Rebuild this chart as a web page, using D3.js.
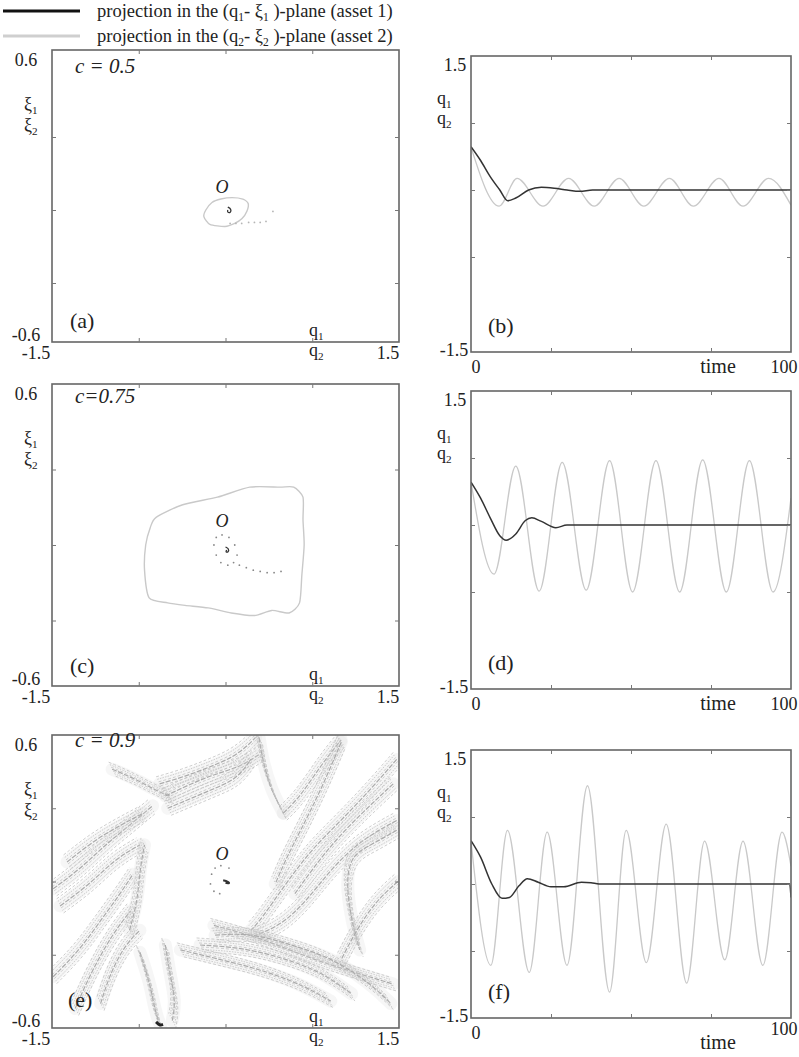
<!DOCTYPE html>
<html>
<head>
<meta charset="utf-8">
<script src="https://cdn.jsdelivr.net/npm/d3@7"></script>
<style>
  body { margin: 0; background: #fff; }
  svg text { font-family: "Liberation Serif", "Times New Roman", serif; fill: #222; }
</style>
</head>
<body>
<svg id="fig" width="799" height="1057"></svg>
<script>
// ---------- data ----------
const qRange = [-1.5, 1.5];
const xiRange = [-0.6, 0.6];
const timeRange = [0, 100];
const phaseTicksQ = [-0.75, 0, 0.75];
const phaseTicksXi = [-0.3, 0, 0.3];
const timeTicks = [25, 50, 75];
const seriesTicks = [-0.75, 0, 0.75];

const legendSubs = ["1", "2"];
const legendAssets = ["asset 1", "asset 2"];
const cLabels = ["c = 0.5", "c=0.75", "c = 0.9"];
const phaseLetters = ["(a)", "(c)", "(e)"];
const timeLetters = ["(b)", "(d)", "(f)"];

// time series [time, q]
const q1_b = [[0,0.485],[3,0.33],[6,0.15],[9,0.0],[11.5,-0.12],[14,-0.09],[18,0.0],[22,0.03],[26,0.02],[30,0.0],[34,-0.015],[38,0],[100,0]];
const q2_b = [[0,0.48],[8.8,-0.18],[14.4,0.13],[22.5,-0.18],[30.5,0.13],[38.5,-0.18],[46.3,0.13],[54,-0.18],[62,0.13],[69.5,-0.18],[77.5,0.13],[85,-0.18],[93,0.13],[100,-0.17]];
const q1_d = [[0,0.48],[3,0.3],[6,0.08],[9,-0.12],[11,-0.17],[14,-0.1],[17,0.05],[19,0.08],[22,0.04],[26.5,-0.03],[30,0],[100,0]];
const q2_d = [[0,0.48],[7.2,-0.55],[14,0.66],[21.3,-0.74],[28.5,0.7],[36,-0.73],[43.3,0.72],[50.5,-0.75],[57.8,0.72],[65.2,-0.75],[72.4,0.73],[79.8,-0.75],[87,0.72],[94.4,-0.75],[100,0.3]];
const q1_f = [[0,0.485],[3,0.3],[6.5,0.0],[9.7,-0.16],[12,-0.15],[15,-0.02],[17.6,0.06],[21,0.02],[25,-0.03],[29,-0.03],[34.5,0.02],[37.5,0.015],[40,0],[99.6,0],[100,-0.15]];
const q2_f = [[0,0.48],[6.2,-0.91],[11.4,0.6],[18.2,-0.99],[23.8,0.58],[30,-0.91],[36.4,1.1],[43.3,-1.21],[48.5,0.6],[54.8,-0.88],[61,0.67],[67.4,-1.11],[73,0.48],[79.3,-0.85],[85,0.48],[91.2,-0.91],[97.2,0.58],[100,0.2]];

// phase plane [q, xi]
const cycle_a = [[0.196,0.027],[0.15,0.045],[0.057,0.051],[-0.04,0.045],[-0.117,0.031],[-0.17,0.0],[-0.187,-0.027],[-0.135,-0.059],[-0.004,-0.068],[0.08,-0.055],[0.143,-0.035],[0.185,-0.005]];
const trail_a = [[0.04,-0.055],[0.09,-0.055],[0.14,-0.055],[0.2,-0.051],[0.25,-0.051],[0.3,-0.051],[0.35,-0.047],[0.41,-0.006]];
const spiral_a = [[0.02,0.012],[0.05,0.004],[0.045,-0.012],[0.015,-0.01],[0.02,0.0]];

const cycle_c = [[-0.6,0.11],[-0.37,0.16],[-0.07,0.19],[0.21,0.23],[0.47,0.23],[0.59,0.23],[0.67,0.19],[0.67,0.1],[0.68,0.0],[0.66,-0.12],[0.64,-0.23],[0.55,-0.27],[0.4,-0.26],[0.25,-0.28],[0.05,-0.27],[-0.15,-0.25],[-0.35,-0.24],[-0.5,-0.23],[-0.66,-0.21],[-0.7,-0.1],[-0.69,0.0],[-0.65,0.07]];
const dots_c = [[-0.1,0.0],[-0.08,0.03],[-0.03,0.04],[0.03,0.03],[0.08,0.0],[0.1,-0.04],[0.07,-0.07],[0.02,-0.08],[-0.04,-0.07],[-0.08,-0.04],[0.12,-0.08],[0.18,-0.09],[0.24,-0.1],[0.3,-0.105],[0.36,-0.11],[0.42,-0.11],[0.48,-0.105]];
const spiral_c = [[0.0,-0.008],[0.03,-0.014],[0.025,-0.03],[0.0,-0.028],[0.01,-0.02]];

const streaks_e = [
  [[-0.98,0.46],[-0.78,0.42],[-0.59,0.37],[-0.48,0.35]],
  [[-0.57,0.40],[-0.35,0.43],[-0.13,0.47],[0.07,0.51],[0.2,0.56],[0.26,0.59]],
  [[-0.52,0.35],[-0.30,0.40],[-0.09,0.44],[0.13,0.47],[0.29,0.52]],
  [[-0.5,0.30],[-0.3,0.34],[-0.1,0.38],[0.1,0.42],[0.22,0.5]],
  [[0.29,0.59],[0.32,0.50],[0.39,0.38],[0.50,0.28]],
  [[0.5,0.28],[0.65,0.35],[0.83,0.48],[1.0,0.58]],
  [[1.0,0.57],[0.83,0.38],[0.65,0.21],[0.52,0.09],[0.43,-0.01]],
  [[1.48,0.50],[1.26,0.38],[1.0,0.25],[0.74,0.13],[0.52,-0.01],[0.30,-0.16],[0.22,-0.20]],
  [[1.45,0.40],[1.2,0.29],[0.95,0.17],[0.75,0.05],[0.6,-0.05]],
  [[1.48,0.25],[1.17,0.17],[0.91,0.05],[0.70,-0.08],[0.48,-0.18],[0.26,-0.22]],
  [[1.48,0.21],[1.26,0.15],[1.09,0.11],[1.04,0.0],[1.09,-0.16],[1.16,-0.28]],
  [[1.49,0.0],[1.30,-0.08],[1.13,-0.20],[1.0,-0.32]],
  [[-0.1,-0.18],[0.3,-0.23],[0.7,-0.31],[1.1,-0.37],[1.45,-0.42]],
  [[-0.09,-0.22],[0.22,-0.21],[0.57,-0.26],[0.91,-0.31],[1.26,-0.42],[1.43,-0.50]],
  [[-0.22,-0.26],[0.13,-0.27],[0.48,-0.31],[0.83,-0.37],[1.09,-0.46]],
  [[-0.39,-0.28],[-0.04,-0.32],[0.30,-0.36],[0.65,-0.42],[0.91,-0.49]],
  [[-0.74,-0.29],[-0.65,-0.42],[-0.61,-0.53],[-0.56,-0.595]],
  [[-0.52,-0.26],[-0.48,-0.38],[-0.43,-0.49],[-0.46,-0.57]],
  [[-1.49,-0.39],[-1.26,-0.28],[-1.08,-0.16],[-0.91,-0.05],[-0.80,0.03]],
  [[-1.3,-0.52],[-1.15,-0.36],[-0.97,-0.21],[-0.82,-0.12]],
  [[-1.08,-0.50],[-1.0,-0.38],[-0.87,-0.26],[-0.74,-0.20]],
  [[-1.49,-0.03],[-1.26,0.05],[-1.04,0.15],[-0.83,0.23],[-0.63,0.31]],
  [[-1.37,0.08],[-1.13,0.17],[-0.91,0.23],[-0.71,0.28]],
  [[-1.43,-0.10],[-1.17,-0.01],[-0.96,0.09],[-0.74,0.15]],
  [[-0.83,-0.20],[-0.76,-0.08],[-0.74,0.05],[-0.70,0.15]]
];
const dots_e = [[-0.12,0.03],[-0.09,0.055],[-0.04,0.065],[0.03,0.055],[-0.13,-0.01],[-0.1,-0.04],[-0.05,-0.05]];
const spiral_e = [[-0.02,0.005],[0.02,0.0],[0.04,-0.008],[0.0,-0.006]];
const blob_e = [[-0.6,-0.575],[-0.57,-0.59],[-0.54,-0.585]];

// ---------- layout ----------
const svg = d3.select("#fig");
// off = shift of the plotting scale inside the frame
const leftPanels = [{x:52,y:50,w:347,h:292,off:14},{x:52,y:384,w:347,h:302,off:10},{x:52,y:735,w:347,h:293,off:0}];
const rightPanels = [{x:471,y:56,w:320,h:296},{x:471,y:391,w:320,h:298},{x:471,y:750,w:320,h:268}];
const plotH = 268;
const frameColor = "#666";
const darkLine = "#333";
const lightLine = "#c9c9c9";

// text with subscripts: parts = [[str, isSub], ...]
function subText(g, x, y, parts, size, anchor) {
  const t = g.append("text").attr("x", x).attr("y", y)
    .attr("font-size", size).attr("text-anchor", anchor || "start");
  let inSub = false;
  parts.forEach(p => {
    const ts = t.append("tspan").text(p[0]);
    if (p[1] && !inSub) { ts.attr("font-size", size * 0.62).attr("dy", size * 0.2); inSub = true; }
    else if (p[1]) { ts.attr("font-size", size * 0.62); }
    else if (inSub) { ts.attr("dy", -size * 0.2); inSub = false; }
  });
  return t;
}

// legend
legendSubs.forEach((s, i) => {
  const y = 11 + i * 25;
  svg.append("line").attr("x1", 3).attr("x2", 80).attr("y1", y).attr("y2", y)
    .attr("stroke", i === 0 ? "#111" : "#cfcfcf").attr("stroke-width", 3);
  subText(svg, 97, y + 6, [["projection in the (q", 0], [s, 1], ["- \u03BE", 0], [s, 1], [" )-plane (" + legendAssets[i] + ")", 0]], 18.5);
});

function ticks(g, p, x, y, xt, yt) {
  const ax = [
    [d3.axisBottom(x).tickValues(xt), `translate(0,${p.y + p.h})`],
    [d3.axisTop(x).tickValues(xt), `translate(0,${p.y})`],
    [d3.axisLeft(y).tickValues(yt), `translate(${p.x},0)`],
    [d3.axisRight(y).tickValues(yt), `translate(${p.x + p.w},0)`]
  ];
  ax.forEach(a => {
    g.append("g").attr("transform", a[1])
      .call(a[0].tickSize(-4).tickFormat(""))
      .call(s => s.select(".domain").remove())
      .call(s => s.selectAll("line").attr("stroke", "#777"));
  });
}

function frame(g, p) {
  g.append("rect").attr("x", p.x).attr("y", p.y).attr("width", p.w).attr("height", p.h)
    .attr("fill", "none").attr("stroke", frameColor).attr("stroke-width", 1.6);
}

function clip(id, p) {
  svg.append("clipPath").attr("id", id).append("rect")
    .attr("x", p.x).attr("y", p.y).attr("width", p.w).attr("height", p.h);
}

// ---------- time panels ----------
const seriesSets = [[q1_b, q2_b], [q1_d, q2_d], [q1_f, q2_f]];
rightPanels.forEach((p, i) => {
  const x = d3.scaleLinear().domain(timeRange).range([p.x, p.x + p.w]);
  const y = d3.scaleLinear().domain(qRange).range([p.y + plotH, p.y]);
  const g = svg.append("g");
  clip("ct" + i, p);
  const line = d3.line().x(d => x(d[0])).y(d => y(d[1])).curve(d3.curveMonotoneX);
  const lg = g.append("g").attr("clip-path", `url(#ct${i})`);
  lg.append("path").attr("d", line(seriesSets[i][1])).attr("fill", "none")
    .attr("stroke", lightLine).attr("stroke-width", 1.3);
  lg.append("path").attr("d", line(seriesSets[i][0])).attr("fill", "none")
    .attr("stroke", darkLine).attr("stroke-width", 1.5);
  frame(g, p);
  ticks(g, p, x, y, timeTicks, seriesTicks);

  g.append("text").attr("x", p.x - 16).attr("y", p.y + 15).attr("text-anchor", "middle").attr("font-size", 18).text(qRange[1]);
  g.append("text").attr("x", p.x - 17).attr("y", p.y + p.h + 4).attr("text-anchor", "middle").attr("font-size", 18).text(qRange[0]);
  subText(g, p.x - 34, p.y + 48, [["q", 0], ["1", 1]], 18);
  subText(g, p.x - 34, p.y + 68, [["q", 0], ["2", 1]], 18);
  const by = p.y + p.h + 21;
  g.append("text").attr("x", x(timeRange[0]) + 5).attr("y", by).attr("text-anchor", "middle").attr("font-size", 18).text(timeRange[0]);
  g.append("text").attr("x", 718).attr("y", i === 2 ? by + 10 : by).attr("text-anchor", "middle").attr("font-size", 20).text("time");
  g.append("text").attr("x", 784).attr("y", i === 2 ? by - 4 : by).attr("text-anchor", "middle").attr("font-size", 18).text(timeRange[1]);
  g.append("text").attr("x", p.x + 17).attr("y", p.y + p.h - 19).attr("font-size", 22).text(timeLetters[i]);
});

// ---------- phase panels ----------
const cBase = [23, 19, 12];
const letterOff = [14, 13, 21];
leftPanels.forEach((p, i) => {
  const x = d3.scaleLinear().domain(qRange).range([p.x, p.x + p.w]);
  const y = d3.scaleLinear().domain(xiRange).range([p.y + p.h + p.off, p.y + p.off]);
  const g = svg.append("g");
  clip("cp" + i, p);
  const pg = g.append("g").attr("clip-path", `url(#cp${i})`);
  const closed = d3.line().x(d => x(d[0])).y(d => y(d[1])).curve(d3.curveCardinalClosed.tension(0.3));
  const open = d3.line().x(d => x(d[0])).y(d => y(d[1])).curve(d3.curveBasis);

  if (i === 0) {
    pg.append("path").attr("d", closed(cycle_a)).attr("fill", "none").attr("stroke", lightLine).attr("stroke-width", 1.4);
    pg.selectAll(".dt").data(trail_a).join("circle").attr("cx", d => x(d[0])).attr("cy", d => y(d[1])).attr("r", 0.9).attr("fill", "#b5b5b5");
    pg.append("path").attr("d", open(spiral_a)).attr("fill", "none").attr("stroke", darkLine).attr("stroke-width", 1.3);
  } else if (i === 1) {
    pg.append("path").attr("d", closed(cycle_c)).attr("fill", "none").attr("stroke", lightLine).attr("stroke-width", 1.4);
    pg.selectAll(".dt").data(dots_c).join("circle").attr("cx", d => x(d[0])).attr("cy", d => y(d[1])).attr("r", 0.9).attr("fill", "#888");
    pg.append("path").attr("d", open(spiral_c)).attr("fill", "none").attr("stroke", darkLine).attr("stroke-width", 1.3);
  } else {
    const offs = [-7, -4.5, -2, 0, 2, 4.5, 7];
    streaks_e.forEach(s => {
      pg.append("path").attr("d", open(s)).attr("fill", "none")
        .attr("stroke", "#d8d8d8").attr("stroke-width", 13).attr("stroke-opacity", 0.22).attr("stroke-linecap", "round");
      offs.forEach((o, k) => {
        pg.append("path").attr("d", open(s)).attr("transform", `translate(${o * 0.5},${o})`)
          .attr("fill", "none").attr("stroke", o === 0 ? "#aaaaaa" : "#c2c2c2").attr("stroke-width", o === 0 ? 1.2 : 0.8)
          .attr("stroke-dasharray", o === 0 ? "5 1.5" : (k % 2 ? "1.5 1.2" : "3 2"));
      });
    });
    pg.selectAll(".dt").data(dots_e).join("circle").attr("cx", d => x(d[0])).attr("cy", d => y(d[1])).attr("r", 0.9).attr("fill", "#888");
    pg.append("path").attr("d", open(spiral_e)).attr("fill", "none").attr("stroke", darkLine).attr("stroke-width", 2);
    pg.append("path").attr("d", open(blob_e)).attr("fill", "none").attr("stroke", "#222").attr("stroke-width", 3);
  }

  frame(g, p);
  ticks(g, p, x, y, phaseTicksQ, phaseTicksXi);

  g.append("text").attr("x", 26).attr("y", p.y + 16).attr("text-anchor", "middle").attr("font-size", 18).text(xiRange[1]);
  g.append("text").attr("x", 26).attr("y", p.y + p.h - 1).attr("text-anchor", "middle").attr("font-size", 18).text(xiRange[0]);
  g.append("text").attr("x", 36).attr("y", p.y + p.h + 17).attr("text-anchor", "middle").attr("font-size", 18).text(qRange[0]);
  g.append("text").attr("x", 388).attr("y", p.y + p.h + 17).attr("text-anchor", "middle").attr("font-size", 18).text(qRange[1]);
  subText(g, 309, p.y + p.h - 6, [["q", 0], ["1", 1]], 18);
  subText(g, 309, p.y + p.h + 14, [["q", 0], ["2", 1]], 18);
  subText(g, 24, p.y + 60, [["\u03BE", 0], ["1", 1]], 18);
  subText(g, 24, p.y + 81, [["\u03BE", 0], ["2", 1]], 18);
  g.append("text").attr("x", 75).attr("y", p.y + cBase[i]).attr("font-size", 21)
    .attr("font-style", "italic").attr("fill", "#333").text(cLabels[i]);
  g.append("text").attr("x", [70, 70, 68][i]).attr("y", p.y + p.h - letterOff[i]).attr("font-size", 22).text(phaseLetters[i]);
  g.append("text").attr("x", x(-0.03)).attr("y", y(i === 2 ? 0.09 : 0.07)).attr("font-size", 18)
    .attr("font-style", "italic").attr("text-anchor", "middle").text("O");
});
</script>
</body>
</html>
